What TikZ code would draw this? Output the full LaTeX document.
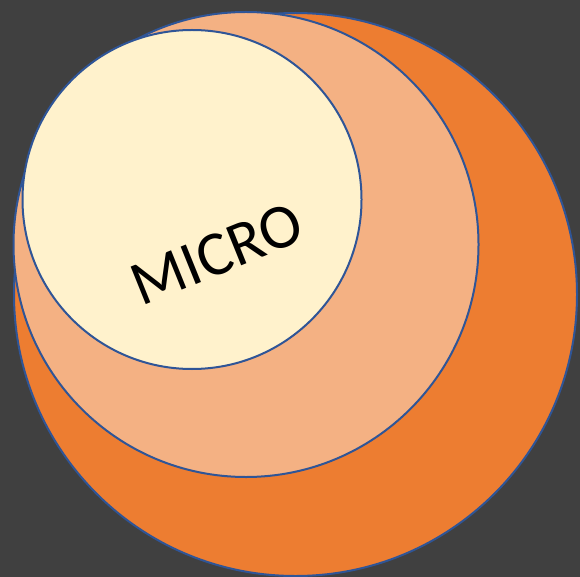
\documentclass[tikz,border=0pt]{standalone}
\usepackage{fontspec}
\setmainfont{Carlito}
\usepackage{xcolor}
\usepackage{tikz}

\definecolor{bgdark}{HTML}{404040}
\definecolor{ringedge}{HTML}{2F5597}
\definecolor{macrofill}{HTML}{ED7D31}
\definecolor{mesofill}{HTML}{F4B183}
\definecolor{microfill}{HTML}{FFF2CC}

\begin{document}
\begin{tikzpicture}[x=1pt, y=-1pt,
  ring/.style={circle, draw=ringedge, line width=2pt, inner sep=0pt}]

  \fill[bgdark] (0,0) rectangle (580,577);
  \useasboundingbox (0,0) rectangle (580,577);

  \node[ring, fill=macrofill, minimum size=563pt] (macro) at (295.5,294.5) {};
  \node[ring, fill=mesofill, minimum size=465pt] (meso) at (246,244.5) {};
  \node[ring, fill=microfill, minimum size=339pt] (micro) at (192,199.5) {};
  \node[rotate=22, font=\fontsize{63}{65}\selectfont] (label) at (217,254) {MICRO};

\end{tikzpicture}
\end{document}
